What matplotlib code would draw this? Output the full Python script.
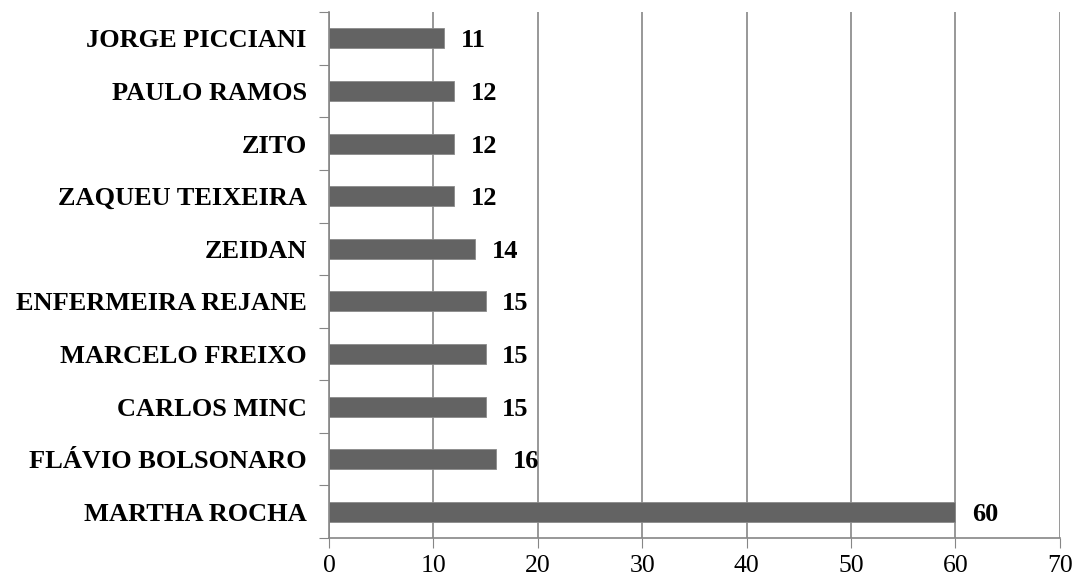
import matplotlib
matplotlib.use("Agg")
import matplotlib.pyplot as plt

names = ["MARTHA ROCHA", "FLÁVIO BOLSONARO", "CARLOS MINC", "MARCELO FREIXO",
         "ENFERMEIRA REJANE", "ZEIDAN", "ZAQUEU TEIXEIRA", "ZITO",
         "PAULO RAMOS", "JORGE PICCIANI"]
votes = [60, 16, 15, 15, 15, 14, 12, 12, 12, 11]

plt.rcParams['font.family'] = ['Liberation Serif', 'DejaVu Serif']

fig = plt.figure(figsize=(10.76, 5.8), dpi=100)
ax = fig.add_axes([0.3058, 0.0724, 0.6792, 0.9066])

pos = range(len(names))
ax.barh(pos, votes, height=0.38, color='#636363', edgecolor='#8a8a8a', linewidth=0.6, zorder=3)
for p, v in zip(pos, votes):
    ax.text(v + 1.6, p, str(v), va='center_baseline', ha='left', fontsize=19, fontweight='bold', zorder=4)

ax.set_xlim(0, 70)
ax.set_ylim(-0.5, len(names) - 0.5)
ax.set_xticks(range(0, 71, 10))
ax.tick_params(axis='x', labelsize=18.5, length=7, color='#868686', pad=5)

# y ticks sit between categories, labels in the middle
ax.set_yticks([i - 0.5 for i in range(len(names) + 1)])
ax.set_yticklabels([])
ax.set_yticks(list(pos), minor=True)
ax.set_yticklabels(names, minor=True, fontsize=19, fontweight='bold')
ax.tick_params(axis='y', which='major', length=7, color='#868686')
ax.tick_params(axis='y', which='minor', length=0, pad=16)

ax.xaxis.grid(True, color='#868686', linewidth=1.2, zorder=0)
for s in ['top', 'right']:
    ax.spines[s].set_visible(False)
for s in ['left', 'bottom']:
    ax.spines[s].set_color('#868686')
    ax.spines[s].set_linewidth(1.2)

fig.savefig("out.png", dpi=100)
